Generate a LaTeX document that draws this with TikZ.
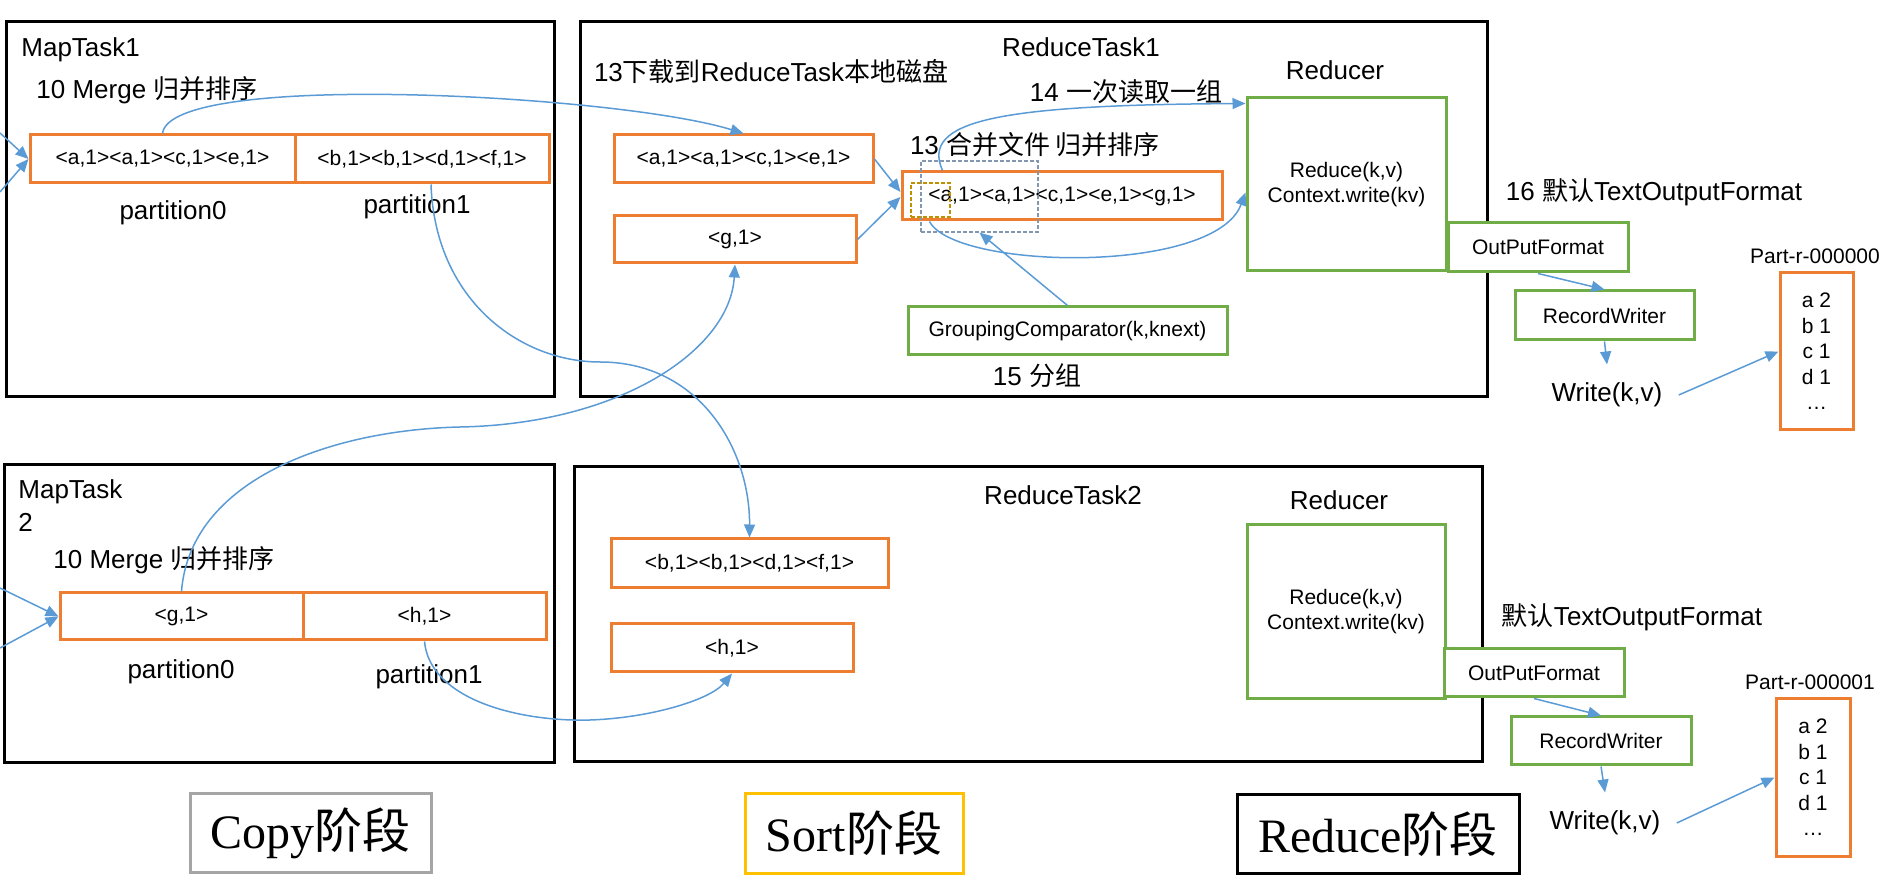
\documentclass[tikz,border=0pt]{standalone}
\usepackage{fontspec}
\setmainfont{Liberation Sans}
\newfontfamily\serif{Liberation Serif}
\newfontfamily\cjk{Noto Sans CJK SC}
\usetikzlibrary{arrows.meta}

\definecolor{kvorange}{HTML}{ED7D31}
\definecolor{fngreen}{HTML}{70AD47}
\definecolor{flowblue}{HTML}{5B9BD5}
\definecolor{copygray}{HTML}{A5A5A5}
\definecolor{sortgold}{HTML}{FFC000}
\definecolor{winblue}{HTML}{8497B0}
\definecolor{keygold}{HTML}{BF9000}

\tikzset{
  task/.style={draw, line width=1.5pt, inner sep=0pt},
  kvbox/.style={draw=kvorange, line width=1.5pt, inner sep=0pt, font=\fontsize{10.5}{12.5}\selectfont},
  fnbox/.style={draw=fngreen, line width=1.5pt, fill=white, inner sep=0pt, align=center, font=\fontsize{10.5}{12.5}\selectfont},
  filebox/.style={draw=kvorange, line width=1.5pt, inner sep=0pt, align=center, font=\fontsize{10.5}{12.75}\selectfont},
  lbl/.style={inner sep=0pt, font=\fontsize{13}{16.5}\selectfont},
  lblsmall/.style={inner sep=0pt, font=\fontsize{10.5}{12.5}\selectfont},
  win/.style={draw=#1, line width=0.6pt, dash pattern=on 2pt off 1pt, inner sep=0pt},
  flow/.style={draw=flowblue, line width=0.75pt, -{Triangle[length=6.5pt,width=5.5pt]}},
  phasebox/.style={draw=#1, line width=1.5pt, inner sep=0pt, font=\fontsize{24}{28}\selectfont},
}

\begin{document}
\begin{tikzpicture}[x=0.5pt, y=-0.5pt]
    \useasboundingbox (0,0) rectangle (1886,892);

    % zeichne MapTask1
    \node[task, minimum width=274pt, minimum height=187.5pt] (map1) at (280,209.5) {};
    \node[lbl, anchor=west] (map1name) at (21,50) {MapTask1};
    \node[lbl] (merge1) at (147,90) {10 Merge {\cjk 归并排序}};
    \node[kvbox, minimum width=132.5pt, minimum height=24pt] (p10) at (162.5,159) {<a,1><a,1><c,1><e,1>};
    \node[kvbox, minimum width=127pt, minimum height=24pt] (p11) at (422,159) {<b,1><b,1><d,1><f,1>};
    \node[lbl] (p10name) at (173,213) {partition0};
    \node[lbl] (p11name) at (417,207) {partition1};

    % zeichne MapTask2
    \node[task, minimum width=275pt, minimum height=149pt] (map2) at (279,614) {};
    \node[lbl, anchor=west, align=left] (map2name) at (18,505.5) {MapTask\\2};
    \node[lbl] (merge2) at (164,560) {10 Merge {\cjk 归并排序}};
    \node[kvbox, minimum width=121.5pt, minimum height=23.5pt] (p20) at (181.5,616.5) {<g,1>};
    \node[kvbox, minimum width=121.5pt, minimum height=23.5pt] (p21) at (424.5,616.5) {<h,1>};
    \node[lbl] (p20name) at (181,672) {partition0};
    \node[lbl] (p21name) at (429,677) {partition1};

    % zeichne ReduceTask1
    \node[task, minimum width=453.5pt, minimum height=187.5pt] (red1task) at (1033.5,209.5) {};
    \node[lbl] (red1name) at (1081,47) {ReduceTask1};
    \node[lbl] (fetch1) at (771,72) {13{\cjk 下载到}ReduceTask{\cjk 本地磁盘}};
    \node[lbl] (read1) at (1126,92) {14 {\cjk 一次读取一组}};
    \node[lbl] (sort1) at (1035,145) {13 {\cjk 合并文件 归并排序}};
    \node[kvbox, minimum width=129.5pt, minimum height=24pt] (akv) at (743.5,159) {<a,1><a,1><c,1><e,1>};
    \node[kvbox, minimum width=121pt, minimum height=23.5pt] (gkv) at (735,239.5) {<g,1>};
    \node[kvbox, minimum width=160pt, minimum height=24pt] (merged) at (1062,196) {<a,1><a,1><c,1><e,1><g,1>};
    \node[win=winblue, minimum width=58.5pt, minimum height=35.5pt] (grpwin) at (979.5,196.5) {};
    \node[win=keygold, minimum width=19.5pt, minimum height=17pt] (keywin) at (930.5,200) {};
    \node[fnbox, minimum width=159.5pt, minimum height=24pt] (gcomp) at (1067.5,331) {GroupingComparator(k,knext)};
    \node[lbl] (group1) at (1037,376) {15 {\cjk 分组}};
    \node[lbl] (reducer1) at (1335,70) {Reducer};
    \node[fnbox, minimum width=99.5pt, minimum height=86.5pt] (red1) at (1346.5,184.5) {Reduce(k,v)\\Context.write(kv)};

    % zeichne ReduceTask2
    \node[task, minimum width=454pt, minimum height=147.5pt] (red2task) at (1028,614.5) {};
    \node[lbl] (red2name) at (1063,495) {ReduceTask2};
    \node[kvbox, minimum width=138.5pt, minimum height=24.5pt] (bkv) at (749.5,563.5) {<b,1><b,1><d,1><f,1>};
    \node[kvbox, minimum width=121pt, minimum height=24pt] (hkv) at (732,648) {<h,1>};
    \node[lbl] (reducer2) at (1339,500) {Reducer};
    \node[fnbox, minimum width=99pt, minimum height=87pt] (red2) at (1346,612) {Reduce(k,v)\\Context.write(kv)};

    % zeichne Ausgabe
    \node[lbl] (fmt1) at (1654,192) {16 {\cjk 默认}TextOutputFormat};
    \node[fnbox, minimum width=90pt, minimum height=24.5pt] (out1) at (1538,247.5) {OutPutFormat};
    \node[fnbox, minimum width=89.5pt, minimum height=24.5pt] (rw1) at (1604.5,315.5) {RecordWriter};
    \node[lbl, inner xsep=8pt, inner ysep=9pt] (wr1) at (1607,395) {Write(k,v)};
    \node[lblsmall] (part1name) at (1815,256) {Part-r-000000};
    \node[filebox, minimum width=36.5pt, minimum height=78.5pt] (part1) at (1816.5,351.5) {a 2\\b 1\\c 1\\d 1\\…};

    \node[lbl] (fmt2) at (1632,617) {{\cjk 默认}TextOutputFormat};
    \node[fnbox, minimum width=90pt, minimum height=24pt] (out2) at (1534,673) {OutPutFormat};
    \node[fnbox, minimum width=90pt, minimum height=24pt] (rw2) at (1601,741) {RecordWriter};
    \node[lbl, inner xsep=8pt, inner ysep=9pt] (wr2) at (1605,823) {Write(k,v)};
    \node[lblsmall] (part2name) at (1810,682) {Part-r-000001};
    \node[filebox, minimum width=37pt, minimum height=78.5pt] (part2) at (1813,777.5) {a 2\\b 1\\c 1\\d 1\\…};

    % zeichne Phasen
    \node[phasebox=copygray, minimum width=120.5pt, minimum height=39pt] (copy) at (310.5,833) {{\serif Copy}{\cjk 阶段}};
    \node[phasebox=sortgold, minimum width=109pt, minimum height=39.5pt] (sort) at (854,833.5) {{\serif Sort}{\cjk 阶段}};
    \node[phasebox=black, minimum width=141pt, minimum height=39pt] (reduce) at (1378,834) {{\serif Reduce}{\cjk 阶段}};

    % zeichne Pfeile
    \coordinate (in1a) at (0,133);
    \coordinate (in1b) at (0,192);
    \coordinate (in2a) at (0,588);
    \coordinate (in2b) at (0,648);
    \draw[flow] (in1a) -- (p10.west);
    \draw[flow] (in1b) -- (p10.west);
    \draw[flow] (in2a) -- (p20.west);
    \draw[flow] (in2b) -- (p20.west);

    \draw[flow] (p10.north) .. controls (170,70) and (620,95) .. (akv.north);
    \draw[flow] ([xshift=4.5pt]p11.south) .. controls (435,300) and (520,362) .. (600,362) .. controls (700,362) and (750,450) .. (bkv.north);
    \draw[flow] (p20.north) .. controls (190,480) and (330,430) .. (460,427) .. controls (620,424) and (730,350) .. (gkv.south);
    \draw[flow] (p21.south) .. controls (430,700) and (520,722) .. (590,720) .. controls (650,718) and (710,700) .. (hkv.south);

    \draw[flow] (akv.east) -- ([yshift=2pt]merged.west);
    \draw[flow] (gkv.east) -- ([yshift=-0.5pt]merged.west);
    \draw[flow] ([xshift=21pt]merged.north west) .. controls (920,120) and (1000,105) .. ([yshift=-3.5pt]red1.north west);
    \draw[flow] ([xshift=14.5pt]merged.south west) .. controls (955,270) and (1215,275) .. ([yshift=-4pt]red1.west);
    \draw[flow] (gcomp.north) -- (grpwin.south);

    \draw[flow] (out1.south) -- (rw1.north);
    \draw[flow] (rw1.south) -- (wr1.north);
    \draw[flow] (wr1.east) -- (part1.west);
    \draw[flow] (out2.south) -- (rw2.north);
    \draw[flow] (rw2.south) -- (wr2.north);
    \draw[flow] (wr2.east) -- (part2.west);
\end{tikzpicture}
\end{document}
